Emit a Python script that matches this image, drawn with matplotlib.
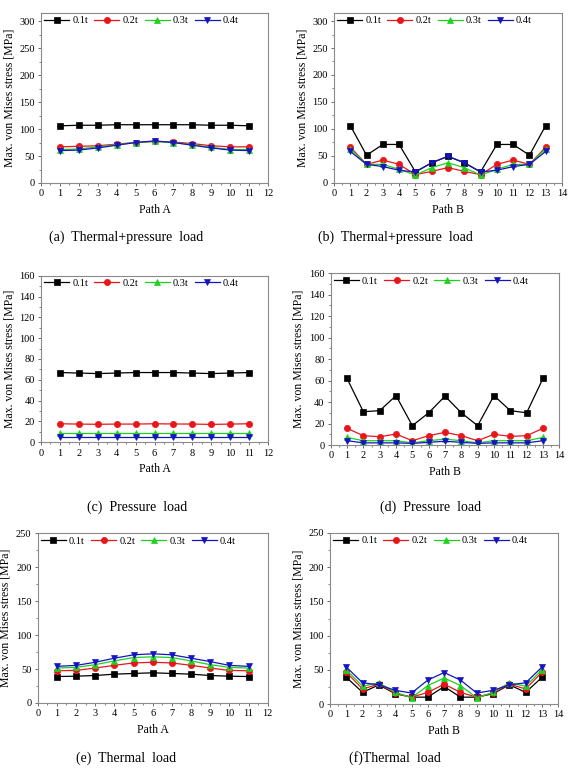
import matplotlib
matplotlib.use("Agg")
import matplotlib.pyplot as plt
from matplotlib.ticker import MultipleLocator, AutoMinorLocator

plt.rcParams['font.family'] = ['Liberation Serif', 'DejaVu Serif']

series_names = ["0.1t", "0.2t", "0.3t", "0.4t"]
path_a = list(range(1, 12))
path_b = list(range(1, 14))

# (a) Thermal+pressure load, Path A
a_01 = [106, 107, 107, 108, 108, 108, 108, 108, 107, 107, 106]
a_02 = [67, 68, 69, 72, 75, 77, 76, 73, 69, 67, 67]
a_03 = [62, 63, 67, 71, 75, 77, 75, 71, 66, 62, 62]
a_04 = [60, 61, 65, 70, 75, 78, 75, 70, 65, 61, 60]

# (b) Thermal+pressure load, Path B
b_01 = [106, 51, 71, 71, 20, 37, 49, 37, 20, 71, 71, 51, 106]
b_02 = [66, 34, 42, 34, 15, 21, 28, 21, 15, 34, 42, 34, 66]
b_03 = [63, 34, 34, 25, 14, 28, 37, 28, 14, 25, 34, 34, 63]
b_04 = [58, 34, 30, 23, 20, 37, 49, 37, 20, 23, 30, 34, 58]

# (c) Pressure load, Path A
c_01 = [67, 66.5, 66, 66.5, 67, 67, 67, 66.5, 66, 66.5, 67]
c_02 = [17.8, 17.5, 17.3, 17.5, 17.5, 17.8, 17.6, 17.5, 17.2, 17.5, 17.8]
c_03 = [9, 9, 9, 9, 9, 9, 9, 9, 9, 9, 9]
c_04 = [5, 5, 5, 5, 5, 5, 5, 5, 5, 5, 5]

# (d) Pressure load, Path B
d_01 = [62, 31, 32, 46, 18, 30, 45.5, 30, 18, 46, 32, 30, 62]
d_02 = [15.5, 8.7, 7.7, 10.2, 4, 8.7, 11.8, 8.7, 4, 10, 8, 8.7, 15.5]
d_03 = [7, 4, 4, 4, 2, 4, 5.5, 4, 2, 4, 4, 4, 7]
d_04 = [4, 2, 2, 2, 1.5, 2.5, 3.5, 2.5, 1.5, 2, 2, 2, 4]

# (e) Thermal load, Path A
e_01 = [39, 39.5, 40.5, 42.5, 43.5, 44.5, 43.5, 42.5, 40.5, 39.5, 39]
e_02 = [47.5, 48, 51.5, 55.5, 59, 60, 59, 55.5, 51.5, 48, 47.5]
e_03 = [51.5, 52.5, 56.5, 62, 67, 68, 67, 62, 56.5, 52.5, 51.5]
e_04 = [54, 55.4, 60, 66, 71, 72.5, 71, 66, 61, 55.4, 54]

# (f) Thermal load, Path B
f_01 = [39, 17, 28, 15, 10, 10, 25.5, 10, 10, 15, 28, 17, 39]
f_02 = [46.5, 22, 29, 16, 10, 17, 29, 17, 10, 16, 29, 22, 46.5]
f_03 = [50, 26, 31, 17, 9, 27, 38, 27, 9, 17, 31, 26, 50]
f_04 = [54, 31, 28, 20, 16, 35, 46, 35, 16, 20, 28, 31, 54]

colors = ["#000000", "#e8161b", "#1fd01f", "#1414c0"]
markers = ["s", "o", "^", "v"]

W, H = 570, 772
fig = plt.figure(figsize=(W / 100, H / 100), dpi=100)

def rect(l, r, t, b):
    return [l / W, 1 - b / H, (r - l) / W, (b - t) / H]

panels = [
    dict(rect=rect(41, 268, 13, 183), x=path_a, ys=[a_01, a_02, a_03, a_04], xmax=12, ymax=315, ystep=50, xl="Path A"),
    dict(rect=rect(334, 562, 13, 182.7), x=path_b, ys=[b_01, b_02, b_03, b_04], xmax=14, ymax=315, ystep=50, xl="Path B"),
    dict(rect=rect(41, 268, 275.7, 442.3), x=path_a, ys=[c_01, c_02, c_03, c_04], xmax=12, ymax=160, ystep=20, xl="Path A"),
    dict(rect=rect(330.7, 559.3, 273.3, 445), x=path_b, ys=[d_01, d_02, d_03, d_04], xmax=14, ymax=160, ystep=20, xl="Path B"),
    dict(rect=rect(37.7, 267.7, 533.3, 703), x=path_a, ys=[e_01, e_02, e_03, e_04], xmax=12, ymax=250, ystep=50, xl="Path A"),
    dict(rect=rect(330, 558.3, 533, 704), x=path_b, ys=[f_01, f_02, f_03, f_04], xmax=14, ymax=250, ystep=50, xl="Path B"),
]

for p in panels:
    ax = fig.add_axes(p["rect"])
    for name, y, c, m in zip(series_names, p["ys"], colors, markers):
        ax.plot(p["x"], y, color=c, marker=m, markersize=4.5, linewidth=0.9,
                markeredgewidth=0.5, label=name)
    ax.set_xlim(0, p["xmax"])
    ax.set_ylim(0, p["ymax"])
    ax.xaxis.set_major_locator(MultipleLocator(1))
    ax.xaxis.set_minor_locator(AutoMinorLocator(2))
    ax.yaxis.set_major_locator(MultipleLocator(p["ystep"]))
    ax.yaxis.set_minor_locator(AutoMinorLocator(2))
    ax.tick_params(axis="both", which="major", direction="out", length=2.5, width=0.6,
                   labelsize=7.5, pad=2, color="#555555")
    ax.tick_params(axis="both", which="minor", direction="out", length=1.5, width=0.5,
                   color="#555555")
    for s in ax.spines.values():
        s.set_color("#8a8a8a")
        s.set_linewidth(0.8)
    ax.set_xlabel(p["xl"], fontsize=8.5, labelpad=4)
    ax.set_ylabel("Max. von Mises stress [MPa]", fontsize=8.5, labelpad=3)
    ax.legend(ncol=4, loc="upper left", frameon=False, fontsize=7.5,
              handlelength=2.4, handletextpad=0.3, columnspacing=0.6,
              borderaxespad=0.2, borderpad=0.1)

captions = [
    ("(a)  Thermal+pressure  load", 126, 237),
    ("(b)  Thermal+pressure  load", 395, 237),
    ("(c)  Pressure  load", 137, 507),
    ("(d)  Pressure  load", 431, 507),
    ("(e)  Thermal  load", 126, 758),
    ("(f)Thermal  load", 395, 758),
]
for t, x, y in captions:
    fig.text(x / W, 1 - y / H, t, ha="center", va="center", fontsize=10)

fig.savefig("out.png", dpi=100)
